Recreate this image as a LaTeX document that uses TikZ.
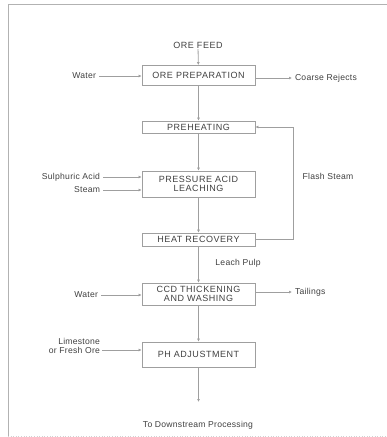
\documentclass[tikz,border=0pt]{standalone}
\usepackage{fontspec}
\setmainfont{Liberation Sans}
\newfontfamily\wideface[LetterSpace=6]{Liberation Sans}
\newfontfamily\labface[LetterSpace=3]{Liberation Sans}
\usetikzlibrary{arrows.meta}
\begin{document}
\begin{tikzpicture}[x=1pt,y=-1pt,
  proc/.style={draw=gray!75, line width=0.9pt, minimum width=113pt, inner sep=0pt, align=center, font=\wideface\fontsize{9}{9.5}\selectfont, text=black!75},
  lbl/.style={inner sep=0pt, outer sep=3pt, font=\labface\fontsize{8.6}{9}\selectfont, text=black!75, align=center},
  flow/.style={draw=gray!75, line width=0.8pt, -{Latex[length=3pt,width=3pt]}},
  frame/.style={draw=gray!60, line width=1pt}]
\useasboundingbox (0,0) rectangle (387,437);
\draw[frame] (8,436) -- (8,4) -- (387,4);
\draw[draw=gray!35, line width=0.6pt, dotted] (8,436) -- (387,436);

\node[lbl, font=\wideface\fontsize{9}{9.5}\selectfont, outer sep=1pt] (feed) at (198,45) {ORE FEED};
\node[proc, minimum height=20pt] (prep) at (198.5,75.5) {ORE PREPARATION};
\node[lbl, anchor=east] (water1) at (99,76) {Water};
\node[lbl, anchor=west] (coarse) at (292,78) {Coarse Rejects};
\node[proc, minimum height=12pt] (preh) at (198.5,127) {PREHEATING};
\node[proc, minimum height=26pt] (leach) at (198.5,184) {PRESSURE ACID\\LEACHING};
\node[lbl, anchor=east] (acid) at (103,177) {Sulphuric Acid};
\node[lbl, anchor=east] (steam) at (103,190) {Steam};
\node[proc, minimum height=13pt] (heat) at (198.5,239.5) {HEAT RECOVERY};
\node[lbl] (flash) at (328,176) {Flash Steam};
\node[lbl] (pulp) at (238,263) {Leach Pulp};
\node[proc, minimum height=22pt] (ccd) at (198.5,294) {CCD THICKENING\\AND WASHING};
\node[lbl, anchor=east] (water2) at (101,295) {Water};
\node[lbl, anchor=west] (tail) at (292,292) {Tailings};
\node[proc, minimum height=25pt] (ph) at (198.5,354.5) {PH ADJUSTMENT};
\node[lbl, align=right, anchor=east] (lime) at (103,346) {Limestone\\or Fresh Ore};
\coordinate (limeend) at (102,350);
\coordinate (down) at (198.5,402);
\node[lbl] (ds) at (198,425) {To Downstream Processing};

\draw[flow] (feed) -- (prep);
\draw[flow] (water1) -- (prep.west |- water1);
\draw[flow] (prep.east |- coarse) -- (coarse);
\draw[flow] (prep) -- (preh);
\draw[flow] (preh) -- (leach);
\draw[flow] (acid) -- (leach.west |- acid);
\draw[flow] (steam) -- (leach.west |- steam);
\draw[flow] (leach) -- (heat);
\draw[flow] (heat.east) -- (293,239.5) -- (293,127) -- (preh.east);
\draw[flow] (heat) -- (ccd);
\draw[flow] (water2) -- (ccd.west |- water2);
\draw[flow] (ccd.east |- tail) -- (tail);
\draw[flow] (ccd) -- (ph);
\draw[flow] (limeend) -- (ph.west |- limeend);
\draw[flow] (ph) -- (down);
\end{tikzpicture}
\end{document}
